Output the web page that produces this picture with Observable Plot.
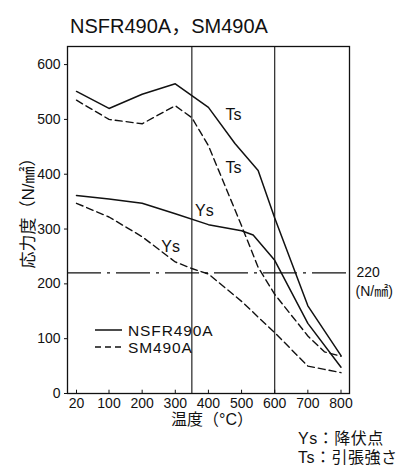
<!DOCTYPE html>
<html><head><meta charset="utf-8">
<script src="https://cdn.jsdelivr.net/npm/d3@7"></script>
<script src="https://cdn.jsdelivr.net/npm/@observablehq/plot@0.6"></script>
<style>
body{margin:0;background:#fff;}
#wrap{position:relative;width:407px;height:476px;font-family:"Liberation Sans","Noto Sans CJK JP",sans-serif;color:#111;overflow:hidden;}
.t{position:absolute;white-space:nowrap;line-height:1;}
#wrap svg{position:absolute;left:0;top:0;}
</style></head><body><div id="wrap"></div>
<script>
// ---- data ----
const title = "NSFR490A，SM490A";
const seriesNames = ["NSFR490A", "SM490A"];
const xTicks = [20, 100, 200, 300, 400, 500, 600, 700, 800];
const yTicks = [0, 100, 200, 300, 400, 500, 600];
const refTemps = [350, 600];
const allowable = [220];

const nsfrTsT = [20, 100, 200, 300, 400, 480, 550, 600, 700, 800];
const nsfrTsV = [551, 520, 546, 565, 522, 456, 407, 320, 160, 69];
const nsfrYsT = [20, 100, 200, 300, 400, 500, 535, 600, 700, 800];
const nsfrYsV = [361, 355, 347, 328, 308, 297, 289, 243, 128, 48];
const smTsT = [20, 100, 200, 300, 350, 400, 500, 550, 600, 700, 750, 800];
const smTsV = [535, 500, 492, 525, 503, 452, 306, 230, 181, 105, 76, 68];
const smYsT = [20, 100, 200, 300, 350, 400, 500, 600, 700, 750, 800];
const smYsV = [347, 322, 286, 240, 228, 218, 168, 111, 50, 44, 38];

const labelText = ["Ts", "Ts", "Ys", "Ys"];
const labelT = [476, 476, 388, 286];
const labelV = [509, 411, 334, 268];

const yTitle = "応力度（N/㎟）";
const xTitle = "温度（°C）";
const defs = ["Ys：降伏点", "Ts：引張強さ"];
const unitText = "(N/㎟)";

// ---- build ----
const rows = (ts, vs) => ts.map((t, i) => ({t, v: vs[i]}));
const labels = labelText.map((s, i) => ({text: s, t: labelT[i], v: labelV[i]}));
const ink = "#111";
const FONT = '"Liberation Sans","Noto Sans CJK JP",sans-serif';

const plot = Plot.plot({
  width: 407, height: 476,
  marginLeft: 67, marginRight: 58, marginTop: 46, marginBottom: 83,
  style: {fontFamily: FONT, fontSize: "14px", color: ink, background: "transparent"},
  x: {type: "linear", domain: [20, 100, 800], range: [76, 108.5, 340.5]},
  y: {domain: [0, 633]},
  marks: [
    Plot.ruleX(refTemps, {stroke: ink, strokeWidth: 1.1}),
    Plot.ruleY(allowable, {stroke: ink, strokeWidth: 1.1, strokeDasharray: "34,6,3,6"}),
    Plot.line(rows(nsfrTsT, nsfrTsV), {x: "t", y: "v", stroke: ink, strokeWidth: 1.5}),
    Plot.line(rows(nsfrYsT, nsfrYsV), {x: "t", y: "v", stroke: ink, strokeWidth: 1.5}),
    Plot.line(rows(smTsT, smTsV), {x: "t", y: "v", stroke: ink, strokeWidth: 1.4, strokeDasharray: "7,4"}),
    Plot.line(rows(smYsT, smYsV), {x: "t", y: "v", stroke: ink, strokeWidth: 1.4, strokeDasharray: "7,4"}),
    Plot.frame({stroke: ink, strokeWidth: 1.3}),
    Plot.axisY({ticks: yTicks, tickSize: 3, tickPadding: 4, label: null, fontSize: 14}),
    Plot.axisX({ticks: xTicks, tickSize: 0, tickPadding: 5, label: null, fontSize: 14}),
    Plot.ruleX(xTicks, {y1: 0, y2: 6, stroke: ink, strokeWidth: 1}),
    Plot.text(labels, {x: "t", y: "v", text: "text", fontSize: 16, fill: ink}),
    Plot.text(allowable, {y: d => d, frameAnchor: "right", dx: 7, textAnchor: "start", text: d => String(d), fontSize: 14, fill: ink}),
    Plot.text(allowable, {y: d => d, frameAnchor: "right", dx: 6, dy: 19, textAnchor: "start", text: () => unitText, fontSize: 14, fill: ink})
  ]
});

const wrap = document.getElementById("wrap");
wrap.appendChild(plot);

function addText(str, css) {
  const d = document.createElement("div");
  d.className = "t";
  d.textContent = str;
  Object.assign(d.style, css);
  wrap.appendChild(d);
  return d;
}
addText(title, {left: "70px", top: "16px", fontSize: "20px"});
addText(yTitle, {left: "28px", top: "209px", fontSize: "17px", transform: "translate(-50%,-50%) rotate(-90deg)"});
addText(xTitle, {left: "212px", top: "420px", fontSize: "16px", transform: "translate(-50%,-50%)"});
addText(defs[0], {left: "298px", top: "439px", fontSize: "16px", transform: "translateY(-50%)", letterSpacing: "0.5px"});
addText(defs[1], {left: "298px", top: "458px", fontSize: "16px", transform: "translateY(-50%)", letterSpacing: "0.5px"});

// legend
const leg = d3.select(wrap).append("svg").attr("width", 407).attr("height", 476).style("pointer-events", "none");
const legY = [330, 347];
const legDash = [null, "6,4"];
seriesNames.forEach((name, i) => {
  leg.append("line").attr("x1", 95).attr("x2", 122).attr("y1", legY[i]).attr("y2", legY[i])
    .attr("stroke", ink).attr("stroke-width", 1.5).attr("stroke-dasharray", legDash[i]);
  leg.append("text").attr("x", 128).attr("y", legY[i]).attr("dy", "0.36em")
    .attr("font-family", FONT).attr("font-size", 15.5).attr("letter-spacing", "0.9")
    .attr("fill", ink).text(name);
});
</script></body></html>
